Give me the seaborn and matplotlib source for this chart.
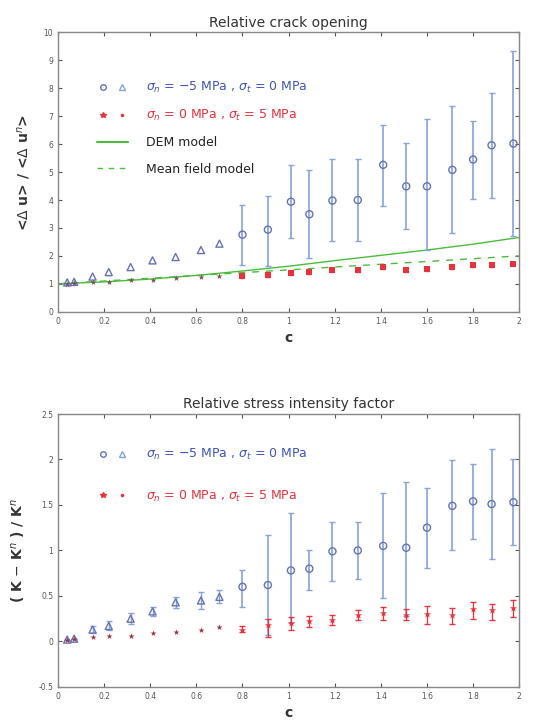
import matplotlib
matplotlib.use("Agg")
import matplotlib.pyplot as plt
import seaborn as sns
import pandas as pd
from matplotlib.lines import Line2D
from matplotlib.legend_handler import HandlerTuple

sns.set_style("ticks")
plt.rcParams['font.family'] = ['DejaVu Sans']

# c values: small ones shown with triangles, larger ones with circles
c_small = [0.04, 0.07, 0.15, 0.22, 0.315, 0.41, 0.51, 0.62, 0.70]
c_large = [0.80, 0.91, 1.01, 1.09, 1.19, 1.30, 1.41, 1.51, 1.60, 1.71, 1.80, 1.88, 1.975]

# ---- relative crack opening ----
open_n_small = [1.05, 1.07, 1.26, 1.42, 1.60, 1.84, 1.96, 2.21, 2.44]
open_n_large = [2.76, 2.94, 3.94, 3.49, 3.98, 4.00, 5.26, 4.49, 4.49, 5.08, 5.45, 5.96, 6.02]
open_n_lo = [1.68, 1.64, 2.64, 1.94, 2.52, 2.52, 3.80, 2.98, 2.21, 2.82, 4.04, 4.08, 2.70]
open_n_hi = [3.82, 4.16, 5.26, 5.08, 5.48, 5.48, 6.70, 6.05, 6.89, 7.37, 6.82, 7.83, 9.35]

open_t_small = [1.00, 1.02, 1.06, 1.08, 1.12, 1.15, 1.20, 1.25, 1.28]
open_t_large = [1.27, 1.30, 1.38, 1.42, 1.50, 1.50, 1.59, 1.48, 1.53, 1.59, 1.66, 1.66, 1.72]

model_c = [0.0, 0.2, 0.4, 0.6, 0.8, 1.0, 1.2, 1.4, 1.6, 1.8, 2.0]
dem = [1.0, 1.07, 1.17, 1.30, 1.46, 1.63, 1.83, 2.02, 2.21, 2.42, 2.66]
mean_field = [1.0, 1.10, 1.20, 1.30, 1.40, 1.50, 1.60, 1.70, 1.80, 1.90, 2.0]

# ---- relative stress intensity factor ----
sif_n_small = [0.02, 0.03, 0.13, 0.17, 0.25, 0.33, 0.43, 0.45, 0.49]
sif_n_small_err = [0.0, 0.0, 0.04, 0.05, 0.06, 0.05, 0.06, 0.09, 0.07]
sif_n_large = [0.60, 0.62, 0.78, 0.80, 0.99, 1.00, 1.05, 1.03, 1.25, 1.49, 1.54, 1.51, 1.53]
sif_n_lo = [0.38, 0.07, 0.20, 0.57, 0.66, 0.69, 0.48, 0.28, 0.81, 1.00, 1.13, 0.91, 1.06]
sif_n_hi = [0.79, 1.17, 1.41, 1.01, 1.31, 1.31, 1.63, 1.75, 1.69, 1.99, 1.95, 2.11, 2.00]

sif_t_small = [0.02, 0.03, 0.05, 0.06, 0.06, 0.09, 0.10, 0.13, 0.16]
sif_t_large = [0.13, 0.18, 0.20, 0.22, 0.24, 0.29, 0.31, 0.29, 0.30, 0.29, 0.36, 0.34, 0.37]
sif_t_lo = [0.10, 0.05, 0.13, 0.16, 0.18, 0.24, 0.24, 0.23, 0.19, 0.19, 0.25, 0.24, 0.27]
sif_t_hi = [0.17, 0.25, 0.27, 0.28, 0.29, 0.35, 0.38, 0.36, 0.39, 0.37, 0.43, 0.41, 0.46]

blue = "#6473b8"
bar_blue = "#86a3d8"
red = "#e8323c"
green = "#4cbb3c"
lab_n = r"$\sigma_n$ = $-$5 MPa , $\sigma_t$ = 0 MPa"
lab_t = r"$\sigma_n$ = 0 MPa , $\sigma_t$ = 5 MPa"

fig = plt.figure(figsize=(5.42, 7.2), dpi=100)
ax1 = fig.add_axes([0.107, 0.567, 0.851, 0.388])
ax2 = fig.add_axes([0.107, 0.046, 0.851, 0.379])


def style_axes(ax):
    for s in ax.spines.values():
        s.set_color("#888888")
        s.set_linewidth(1.0)
    ax.tick_params(direction="in", top=True, right=True, labelsize=5.5,
                   colors="#555555", length=3)
    ax.set_xlim(0, 2)
    ax.set_xticks([0, 0.2, 0.4, 0.6, 0.8, 1, 1.2, 1.4, 1.6, 1.8, 2])
    ax.set_xticklabels(["0", "0.2", "0.4", "0.6", "0.8", "1", "1.2", "1.4",
                        "1.6", "1.8", "2"])
    ax.set_xlabel("c", fontsize=10, fontweight="bold", color="#333333")


def legend_handles():
    h_n = (Line2D([], [], ls="", marker="o", mfc="none", mec=blue, ms=4),
           Line2D([], [], ls="", marker="^", mfc="none", mec=bar_blue, ms=4))
    h_t = (Line2D([], [], ls="", marker="*", color=red, ms=4),
           Line2D([], [], ls="", marker=".", color=red, ms=3))
    return h_n, h_t


def color_legend(leg, colors):
    for t, col in zip(leg.get_texts(), colors):
        t.set_color(col)


# ---------- top panel ----------
ax = ax1
ax.errorbar(c_large, open_n_large,
            yerr=[[m - lo for m, lo in zip(open_n_large, open_n_lo)],
                  [hi - m for m, hi in zip(open_n_large, open_n_hi)]],
            fmt="none", ecolor=bar_blue, elinewidth=1.2, capsize=2.5, zorder=2)
ax.errorbar(c_large, open_t_large, yerr=0.06, fmt="none", ecolor=red,
            elinewidth=0.8, capsize=1.5, zorder=2)
sns.lineplot(x=model_c, y=dem, ax=ax, color=green, lw=1.0, zorder=1)
sns.lineplot(x=model_c, y=mean_field, ax=ax, color=green, lw=1.0,
             dashes=False, zorder=1).lines[-1].set_linestyle((0, (5, 5)))
sns.scatterplot(x=c_small, y=open_n_small, ax=ax, marker="^", s=26,
                facecolor="none", edgecolor=blue, linewidth=1.0, zorder=3)
sns.scatterplot(x=c_large, y=open_n_large, ax=ax, marker="o", s=26,
                facecolor="none", edgecolor=blue, linewidth=1.0, zorder=3)
sns.scatterplot(x=c_small, y=open_t_small, ax=ax, marker="*", s=20,
                color="#7a5050", linewidth=0, zorder=3)
sns.scatterplot(x=c_large, y=open_t_large, ax=ax, marker="s", s=20,
                color=red, linewidth=0, zorder=3)
style_axes(ax)
ax.set_ylim(0, 10)
ax.set_yticks(range(0, 11))
ax.set_title("Relative crack opening", fontsize=10, color="#333333", pad=4)
ax.set_ylabel(r"<$\Delta$ u> / <$\Delta$ u$^n$>", fontsize=10,
              fontweight="bold", color="#333333", labelpad=8)
h_n, h_t = legend_handles()
h_dem = Line2D([], [], color=green, lw=1.5)
h_mf = Line2D([], [], color=green, lw=1.0, ls=(0, (4, 4)))
leg = ax.legend([h_n, h_t, h_dem, h_mf],
                [lab_n, lab_t, "DEM model", "Mean field model"],
                handler_map={tuple: HandlerTuple(ndivide=None, pad=0.6)},
                loc="upper left", bbox_to_anchor=(0.06, 0.87), frameon=False,
                fontsize=9, labelspacing=1.05, handlelength=2.5, handletextpad=1.4)
color_legend(leg, ["#3f55b8", red, "#222222", "#222222"])

# ---------- bottom panel ----------
ax = ax2
ax.errorbar(c_small, sif_n_small, yerr=sif_n_small_err, fmt="none",
            ecolor=bar_blue, elinewidth=1.0, capsize=2, zorder=2)
ax.errorbar(c_large, sif_n_large,
            yerr=[[m - lo for m, lo in zip(sif_n_large, sif_n_lo)],
                  [hi - m for m, hi in zip(sif_n_large, sif_n_hi)]],
            fmt="none", ecolor=bar_blue, elinewidth=1.2, capsize=2.5, zorder=2)
ax.errorbar(c_large, sif_t_large,
            yerr=[[m - lo for m, lo in zip(sif_t_large, sif_t_lo)],
                  [hi - m for m, hi in zip(sif_t_large, sif_t_hi)]],
            fmt="none", ecolor=red, elinewidth=0.9, capsize=2, zorder=2)
sns.scatterplot(x=c_small, y=sif_n_small, ax=ax, marker="^", s=26,
                facecolor="none", edgecolor=blue, linewidth=1.0, zorder=3)
sns.scatterplot(x=c_large, y=sif_n_large, ax=ax, marker="o", s=26,
                facecolor="none", edgecolor=blue, linewidth=1.0, zorder=3)
sns.scatterplot(x=c_small, y=sif_t_small, ax=ax, marker="*", s=20,
                color="#a03040", linewidth=0, zorder=3)
sns.scatterplot(x=c_large, y=sif_t_large, ax=ax, marker="*", s=30,
                color=red, linewidth=0, zorder=3)
style_axes(ax)
ax.set_ylim(-0.5, 2.5)
ax.set_yticks([-0.5, 0, 0.5, 1, 1.5, 2, 2.5])
ax.set_yticklabels(["-0.5", "0", "0.5", "1", "1.5", "2", "2.5"])
ax.set_title("Relative stress intensity factor", fontsize=10, color="#333333", pad=4)
ax.set_ylabel(r"( K $-$ K$^n$ ) / K$^n$", fontsize=10, fontweight="bold",
              color="#333333", labelpad=8)
h_n, h_t = legend_handles()
leg = ax.legend([h_n, h_t], [lab_n, lab_t],
                handler_map={tuple: HandlerTuple(ndivide=None, pad=0.6)},
                loc="upper left", bbox_to_anchor=(0.06, 0.92), frameon=False,
                fontsize=9, labelspacing=2.1, handlelength=2.5, handletextpad=1.4)
color_legend(leg, ["#3f55b8", red])

fig.savefig("out.png", dpi=100)
